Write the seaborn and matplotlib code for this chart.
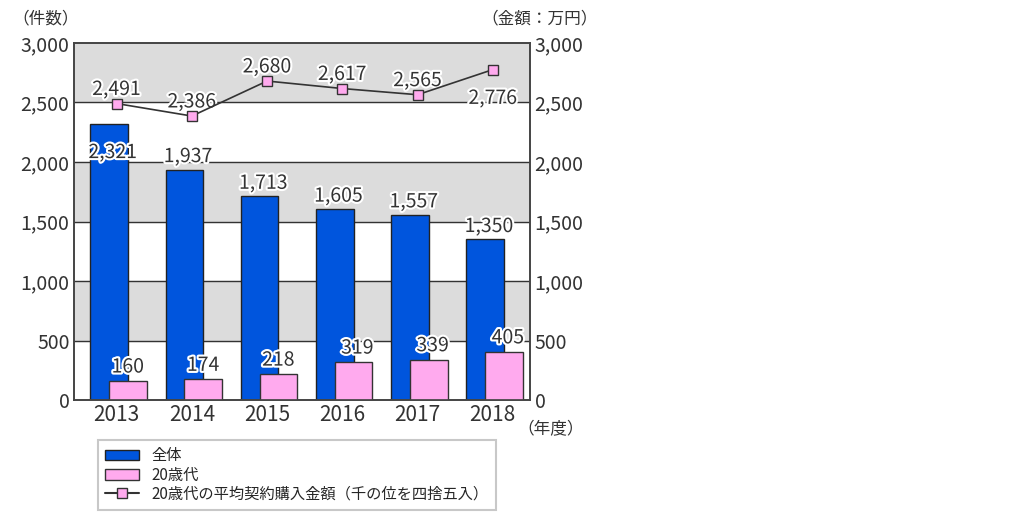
import numpy as np
import matplotlib.pyplot as plt
import seaborn as sns
from matplotlib.patches import Patch
from matplotlib.lines import Line2D

years = ['2013', '2014', '2015', '2016', '2017', '2018']
total = [2321, 1937, 1713, 1605, 1557, 1350]
twenties = [160, 174, 218, 319, 339, 405]
avg_amount = [2491, 2386, 2680, 2617, 2565, 2776]

sns.set_theme(style='white')
plt.rcParams['font.family'] = ['Noto Sans CJK JP', 'DejaVu Sans']

blue = '#0055dd'
pink = '#ffaaee'
fig = plt.figure(figsize=(10.24, 5.30), dpi=100)
ax = fig.add_axes([0.072, 0.245, 0.446, 0.674])
x = np.arange(len(years))

for lo in (500, 1500, 2500):
    ax.axhspan(lo, lo + 500, color='#dcdcdc', zorder=0)
for y in range(500, 3000, 500):
    ax.axhline(y, color='#333333', lw=1, zorder=1)

ax.bar(x - 0.1, total, width=0.5, color=blue, edgecolor='#222222', lw=1, zorder=2)
ax.bar(x + 0.15, twenties, width=0.5, color=pink, edgecolor='#333333', lw=1, zorder=3)

def lbl(xx, yy, s):
    t = ax.text(xx, yy, s, ha='center', va='bottom', fontsize=14, color='#333333', zorder=6)
    import matplotlib.patheffects as pe
    t.set_path_effects([pe.withStroke(linewidth=3, foreground='white')])

for i in range(len(years)):
    ty = total[i] + 20 if i > 0 else total[i] - 330
    lbl(x[i] - 0.05, ty, f'{total[i]:,}')
    lbl(x[i] + 0.15 if i < 3 else x[i] + 0.2, twenties[i] + 30, f'{twenties[i]:,}')
    ay = avg_amount[i] + 30 if i != 5 else avg_amount[i] - 330
    lbl(x[i], ay, f'{avg_amount[i]:,}')

ax2 = ax.twinx()
ax2.plot(x, avg_amount, color='#333333', lw=1.2, marker='s', ms=7,
         markerfacecolor=pink, markeredgecolor='#333333', zorder=5)
ax2.set_zorder(ax.get_zorder() + 1)
for a in (ax, ax2):
    a.set_ylim(0, 3000)
    a.set_yticks(range(0, 3001, 500))
    a.set_yticklabels([f'{v:,}' for v in range(0, 3001, 500)], fontsize=14, color='#333333')
    a.tick_params(length=0, pad=3)
    for s in a.spines.values():
        s.set_color('#444444')
        s.set_linewidth(1.2)
ax.set_xlim(-0.57, 5.5)
ax.set_xticks(x)
ax.set_xticklabels(years, fontsize=15, color='#333333')

fig.text(0.012, 0.965, '（件数）', fontsize=12, color='#333333', va='center')
fig.text(0.47, 0.965, '（金額：万円）', fontsize=12, color='#333333', va='center')
fig.text(0.505, 0.19, '（年度）', fontsize=12, color='#333333', va='center')

handles = [Patch(facecolor=blue, edgecolor='#222222'),
           Patch(facecolor=pink, edgecolor='#333333'),
           Line2D([], [], color='#333333', marker='s', ms=7, markerfacecolor=pink, markeredgecolor='#333333')]
labels = ['全体', '20歳代', '20歳代の平均契約購入金額（千の位を四捨五入）']
leg = fig.legend(handles, labels, loc='upper left', bbox_to_anchor=(0.088, 0.185), fontsize=11,
                 frameon=True, fancybox=False, edgecolor='#bbbbbb', labelspacing=0.15,
                 borderpad=0.5, handlelength=2.2, mode=None)
leg.get_frame().set_linewidth(1.5)

fig.savefig('out.png', dpi=100)
